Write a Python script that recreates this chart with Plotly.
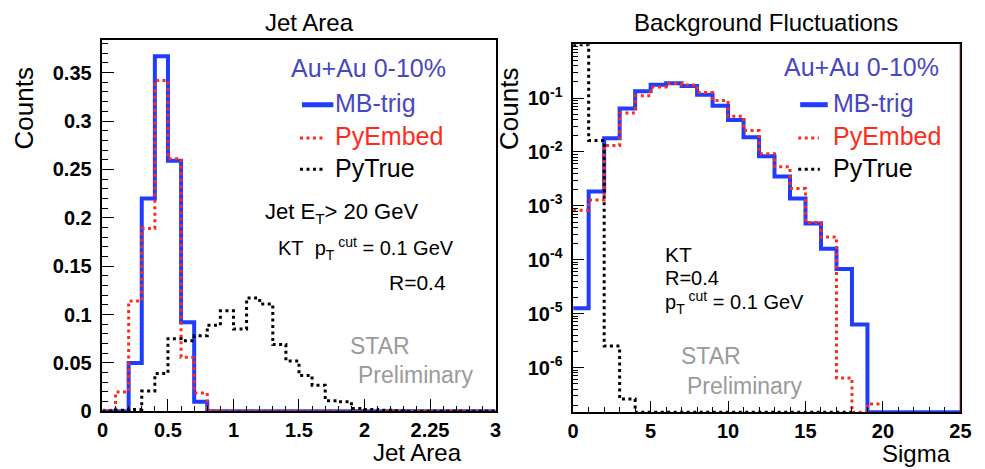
import plotly.graph_objects as go

# ---------------- data ----------------
# Left panel: Jet Area histograms (bin edges 0..3, width 0.1)
area_edges = [0.0, 0.1, 0.2, 0.3, 0.4, 0.5, 0.6, 0.7, 0.8, 0.9, 1.0,
              1.1, 1.2, 1.3, 1.4, 1.5, 1.6, 1.7, 1.8, 1.9, 2.0,
              2.1, 2.2, 2.3, 2.4, 2.5, 2.6, 2.7, 2.8, 2.9, 3.0]
mb_area = [0.0, 0.0, 0.050, 0.220, 0.367, 0.259, 0.092, 0.010, 0.0, 0.0,
           0.0, 0.0, 0.0, 0.0, 0.0, 0.0, 0.0, 0.0, 0.0, 0.0,
           0.0, 0.0, 0.0, 0.0, 0.0, 0.0, 0.0, 0.0, 0.0, 0.0]
embed_area = [0.001, 0.020, 0.114, 0.189, 0.342, 0.261, 0.056, 0.019, 0.0005, 0.0,
              0.0, 0.0, 0.0, 0.0, 0.0, 0.0, 0.0, 0.0, 0.0, 0.0,
              0.0, 0.0, 0.0, 0.0, 0.0, 0.0, 0.0, 0.0, 0.0, 0.0]
true_area = [0.0, 0.001, 0.002, 0.021, 0.039, 0.075, 0.073, 0.078, 0.089, 0.104,
             0.085, 0.117, 0.111, 0.069, 0.052, 0.037, 0.027, 0.011, 0.010, 0.003,
             0.002, 0.001, 0.0005, 0.0, 0.0, 0.0, 0.0, 0.0, 0.0, 0.0]

# Right panel: Background fluctuations (bin edges 0..25, width 1)
sigma_edges = [0, 1, 2, 3, 4, 5, 6, 7, 8, 9, 10, 11, 12, 13, 14, 15, 16, 17,
               18, 19, 20, 21, 22, 23, 24, 25]
mb_sigma = [1.26e-5, 1.85e-3, 0.018, 0.064, 0.133, 0.177, 0.188, 0.168, 0.115,
            0.072, 0.039, 0.0188, 0.0083, 0.0035, 0.00137, 4.7e-4, 1.6e-4, 6.7e-5,
            6.3e-6, 0, 0, 0, 0, 0, 0]
embed_sigma = [8.3e-4, 1.28e-3, 0.0132, 0.053, 0.11, 0.16, 0.186, 0.175, 0.127,
               0.09, 0.046, 0.025, 0.0093, 0.0053, 0.0021, 4.9e-4, 2.65e-4, 6.4e-7,
               0, 2.1e-7]
true_sigma = [0.97, 0.0163, 2.5e-6, 2.6e-7, 0, 0, 0, 0, 0, 0, 0, 0, 0, 0, 0, 0, 0, 0]

# ---------------- styles ----------------
W, H = 985, 469
FONT = "Liberation Sans, Arial, Helvetica, sans-serif"
BLUE = "#1f3cff"
RED = "#ff2a1a"
BLACK = "#000000"
TXT_BLUE = "#4747c2"
GREY = "#9a9a9a"
DOT = "3px,3.5px"

x1_range = [0, 3]
y1_range = [0, 0.3835]
x2_range = [0, 25]
y2_range = [-6.83, 0.0]

DY = 4  # vertical correction for annotation text boxes


def px(x):
    return x / W


def py(y):
    return 1 - y / H


def steps(edges, vals, floor=None):
    v = list(vals)
    if floor is not None:
        v = [floor if val <= 0 else val for val in v]
    n = len(v)
    return edges[:n + 1], v + [v[-1]]


fig = go.Figure()

# left panel traces
for vals, color, dash, width in [(mb_area, BLUE, "solid", 4),
                                 (embed_area, RED, DOT, 3),
                                 (true_area, BLACK, DOT, 3)]:
    xs, ys = steps(area_edges, vals)
    fig.add_trace(go.Scatter(x=xs, y=ys, mode="lines", line_shape="hv",
                             line=dict(color=color, width=width, dash=dash),
                             xaxis="x", yaxis="y", showlegend=False,
                             hoverinfo="skip"))

# right panel traces
floor = 10 ** y2_range[0]
for vals, color, dash, width in [(mb_sigma, BLUE, "solid", 4),
                                 (embed_sigma, RED, DOT, 3),
                                 (true_sigma, BLACK, DOT, 3)]:
    xs, ys = steps(sigma_edges, vals, floor=floor)
    fig.add_trace(go.Scatter(x=xs, y=ys, mode="lines", line_shape="hv",
                             line=dict(color=color, width=width, dash=dash),
                             xaxis="x2", yaxis="y2", showlegend=False,
                             hoverinfo="skip"))

tickfont = dict(family=FONT, size=20, color="black", weight="bold")
axis_common = dict(showline=True, linecolor="black", linewidth=1.5, mirror=True,
                   showgrid=False, zeroline=False, ticks="inside",
                   tickcolor="black", tickfont=tickfont, ticklabelstandoff=5)

fig.update_layout(
    width=W, height=H,
    margin=dict(l=0, r=0, t=0, b=0),
    paper_bgcolor="white", plot_bgcolor="white",
    showlegend=False,
    xaxis=dict(axis_common, domain=[px(90), px(490)], range=x1_range,
               tickvals=[0, 0.5, 1, 1.5, 2, 2.5, 3],
               ticktext=["0", "0.5", "1", "1.5", "2", "2.25", "3"],
               ticklen=13, anchor="y", ticklabelstandoff=0,
               minor=dict(ticks="inside", ticklen=6, dtick=0.1, tickcolor="black")),
    yaxis=dict(axis_common, domain=[py(413), py(33)], range=y1_range,
               dtick=0.05, tick0=0, ticklen=12, anchor="x",
               minor=dict(ticks="inside", ticklen=6, dtick=0.01, tickcolor="black")),
    xaxis2=dict(axis_common, domain=[px(569), px(963)], range=x2_range,
                dtick=5, tick0=0, ticklen=12, anchor="y2", ticklabelstandoff=0,
                minor=dict(ticks="inside", ticklen=6, dtick=1, tickcolor="black")),
    yaxis2=dict(axis_common, domain=[py(414), py(37)], type="log", range=y2_range,
                tickvals=[1e-1, 1e-2, 1e-3, 1e-4, 1e-5, 1e-6],
                ticktext=["10<sup>-1</sup>", "10<sup>-2</sup>", "10<sup>-3</sup>",
                          "10<sup>-4</sup>", "10<sup>-5</sup>", "10<sup>-6</sup>"],
                ticklen=11, anchor="x2",
                minor=dict(ticks="inside", ticklen=5, dtick="D1", tickcolor="black")),
)

# red right border of right frame
fig.add_shape(type="line", xref="x2", yref="paper", x0=25, x1=25,
              y0=py(414), y1=py(37), line=dict(color="#b52a1e", width=1.5))


def ann(text, x, y, size, color="black", xanchor="left", yanchor="middle",
        textangle=0):
    fig.add_annotation(text=text, x=px(x), y=py(y - DY), xref="paper", yref="paper",
                       xanchor=xanchor, yanchor=yanchor, showarrow=False,
                       textangle=textangle,
                       font=dict(family=FONT, size=size, color=color))


# titles
ann("Jet Area", 301, 19, 24, xanchor="center")
ann("Background Fluctuations", 765, 19, 24, xanchor="center")

# axis titles
ann("Counts", 10, 107, 26, xanchor="center", textangle=-90)
ann("Counts", 503, 107, 26, xanchor="center", textangle=-90)
ann("Jet Area", 458, 459, 24, xanchor="right")
ann("Sigma", 955, 460, 24, xanchor="right")

# left legend
ann("Au+Au 0-10%", 361, 65, 25, color=TXT_BLUE, xanchor="center")
ann("MB-trig", 325, 101, 25, color=TXT_BLUE)
ann("PyEmbed", 325, 135, 25, color=RED)
ann("PyTrue", 325, 168, 25, color=BLACK)
for x0, x1, y, color, dash, w in [(293, 325, 99, BLUE, "solid", 5),
                                  (291, 316, 133, RED, DOT, 3),
                                  (291, 314, 165, BLACK, DOT, 3)]:
    fig.add_shape(type="line", xref="paper", yref="paper", x0=px(x0), x1=px(x1),
                  y0=py(y), y1=py(y), line=dict(color=color, width=w, dash=dash))

ann("Jet E<sub>T</sub>&gt; 20 GeV", 253, 214, 22)
ann("KT&nbsp;&nbsp;p<sub>T</sub><sup> cut</sup> = 0.1 GeV", 267, 250, 20)
ann("R=0.4", 380, 285, 21)
ann("STAR", 340, 350, 23, color=GREY)
ann("Preliminary", 348, 380, 23, color=GREY)

# right legend
ann("Au+Au 0-10%", 862, 64, 25, color=TXT_BLUE, xanchor="center")
ann("MB-trig", 831, 101, 25, color=TXT_BLUE)
ann("PyEmbed", 831, 135, 25, color=RED)
ann("PyTrue", 831, 168, 25, color=BLACK)
for x0, x1, y, color, dash, w in [(800, 828, 99, BLUE, "solid", 5),
                                  (798, 819, 133, RED, DOT, 3),
                                  (798, 820, 165, BLACK, DOT, 3)]:
    fig.add_shape(type="line", xref="paper", yref="paper", x0=px(x0), x1=px(x1),
                  y0=py(y), y1=py(y), line=dict(color=color, width=w, dash=dash))

ann("KT", 660, 256, 21)
ann("R=0.4", 660, 280, 20)
ann("p<sub>T</sub><sup> cut</sup> = 0.1 GeV", 660, 306, 20)
ann("STAR", 677, 360, 23, color=GREY)
ann("Preliminary", 683, 391, 23, color=GREY)

fig.write_html("out.html")
